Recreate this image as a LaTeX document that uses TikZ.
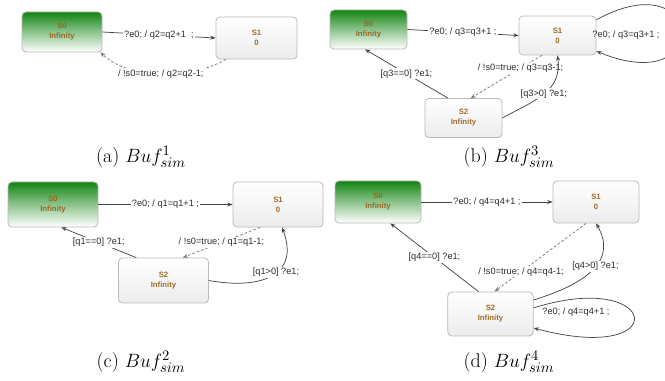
\documentclass[tikz,border=0pt]{standalone}
\usepackage{fontspec}
\setsansfont{Liberation Sans}
\usetikzlibrary{arrows.meta}
\definecolor{gtop}{RGB}{18,132,18}
\definecolor{stc}{RGB}{160,108,40}
\definecolor{stg}{RGB}{150,105,35}
\definecolor{bord}{RGB}{185,185,185}
\definecolor{linec}{RGB}{70,70,70}
\definecolor{dlinec}{RGB}{120,120,120}
\definecolor{lblc}{RGB}{45,45,45}
\definecolor{wbot}{RGB}{236,236,236}
\tikzset{
  st/.style={draw=bord, line width=0.6pt, rounded corners=3pt, align=center, inner sep=0pt,
    font=\sffamily\bfseries\fontsize{5.8}{7.5}\selectfont, text=stc},
  gst/.style={st, top color=gtop, bottom color=white, middle color=gtop!48!white, text=stg},
  wst/.style={st, top color=white, bottom color=wbot},
  lbl/.style={font=\sffamily\fontsize{6.9}{8}\selectfont, text=lblc, fill=white, inner sep=1pt},
  flbl/.style={font=\sffamily\fontsize{6.9}{8}\selectfont, text=lblc, inner sep=1pt},
  edge/.style={draw=linec, line width=0.55pt, -{Stealth[length=4pt,width=3pt]}},
  dedge/.style={edge, draw=dlinec, dash pattern=on 2pt off 1.5pt},
  captxt/.style={font=\fontsize{15}{17}\selectfont, text=black}
}
\begin{document}
\begin{tikzpicture}[x=0.75pt,y=-0.75pt]
\useasboundingbox (0,0) rectangle (665,381);
% ---------- (a) ----------
\node[gst, minimum width=60pt, minimum height=30pt] (S0a) at (62,32) {S0\\Infinity};
\node[wst, minimum width=60.75pt, minimum height=31.5pt] (S1a) at (256.5,38) {S1\\0};
\draw[edge] (S0a.east) -- node[lbl] {?e0; / q2=q2+1\ \ ;} (S1a.west);
\draw[dedge] (S1a.215) .. controls (190,80) and (130,80) .. node[lbl, pos=0.5] {/ !s0=true; / q2=q2-1;} (S0a.-28);
\node[captxt] (capa) at (141,157) {(a) $Buf^{1}_{sim}$};
% ---------- (b) ----------
\node[gst, minimum width=57.75pt, minimum height=29.25pt] (S0b) at (368.5,29.5) {S0\\Infinity};
\node[wst, minimum width=57.75pt, minimum height=29.25pt] (S1b) at (557.5,35.5) {S1\\0};
\node[wst, minimum width=57.75pt, minimum height=29.25pt] (S2b) at (463.5,118) {S2\\Infinity};
\draw[edge] (S0b.east) -- node[lbl] {?e0; / q3=q3+1 ;} (S1b.west);
\draw[edge] (S1b.22) .. controls (705,-40) and (715,100) .. (S1b.-22);
\node[flbl] (lb3) at (626,35) {?e0; / q3=q3+1 ;};
\draw[dedge] (S1b.232) -- node[lbl, pos=0.3] {/ !s0=true; / q3=q3-1;} (S2b.70);
\draw[edge] (S2b.128) -- node[lbl] {[q3==0] ?e1;} (S0b.-100);
\draw[edge] (S2b.east) .. controls (535,100) and (562,92) .. node[lbl, pos=0.5] {[q3>0] ?e1;} (S1b.south);
\node[captxt] (capb) at (509,157) {(b) $Buf^{3}_{sim}$};
% ---------- (c) ----------
\node[gst, minimum width=67.5pt, minimum height=33.75pt] (S0c) at (53,204.5) {S0\\Infinity};
\node[wst, minimum width=67.5pt, minimum height=33.75pt] (S1c) at (278,204.5) {S1\\0};
\node[wst, minimum width=67.5pt, minimum height=33.75pt] (S2c) at (163.5,280.5) {S2\\Infinity};
\draw[edge] (S0c.east) -- node[lbl] {?e0; / q1=q1+1 ;} (S1c.west);
\draw[dedge] (S1c.232) -- node[lbl, pos=0.5] {/ !s0=true; / q1=q1-1;} (S2c.50);
\draw[edge] (S2c.140) -- node[lbl] {[q1==0] ?e1;} (S0c.-70);
\draw[edge] (S2c.east) .. controls (262,290) and (300,275) .. node[lbl, pos=0.55] {[q1>0] ?e1;} (S1c.-80);
\node[captxt] (capc) at (141,362) {(c) $Buf^{2}_{sim}$};
% ---------- (d) ----------
\node[gst, minimum width=64.5pt, minimum height=31.5pt] (S0d) at (378,202) {S0\\Infinity};
\node[wst, minimum width=64.5pt, minimum height=31.5pt] (S1d) at (596,202) {S1\\0};
\node[wst, minimum width=64pt, minimum height=33pt] (S2d) at (490.5,314) {S2\\Infinity};
\draw[edge] (S0d.east) -- node[lbl] {?e0; / q4=q4+1 ;} (S1d.west);
\draw[dedge] (S1d.245) -- node[lbl, pos=0.71] {/ !s0=true; / q4=q4-1;} (S2d.80);
\draw[edge] (S2d.118) -- node[lbl] {[q4==0] ?e1;} (S0d.-60);
\draw[edge] (S2d.18) .. controls (592,282) and (616,258) .. node[lbl, pos=0.52] {[q4>0] ?e1;} (S1d.-90);
\draw[edge] (S2d.8) .. controls (660,268) and (675,366) .. (S2d.-18);
\node[flbl] (lb4) at (576,312) {?e0; / q4=q4+1 ;};
\node[captxt] (capd) at (509,362) {(d) $Buf^{4}_{sim}$};
\end{tikzpicture}
\end{document}
